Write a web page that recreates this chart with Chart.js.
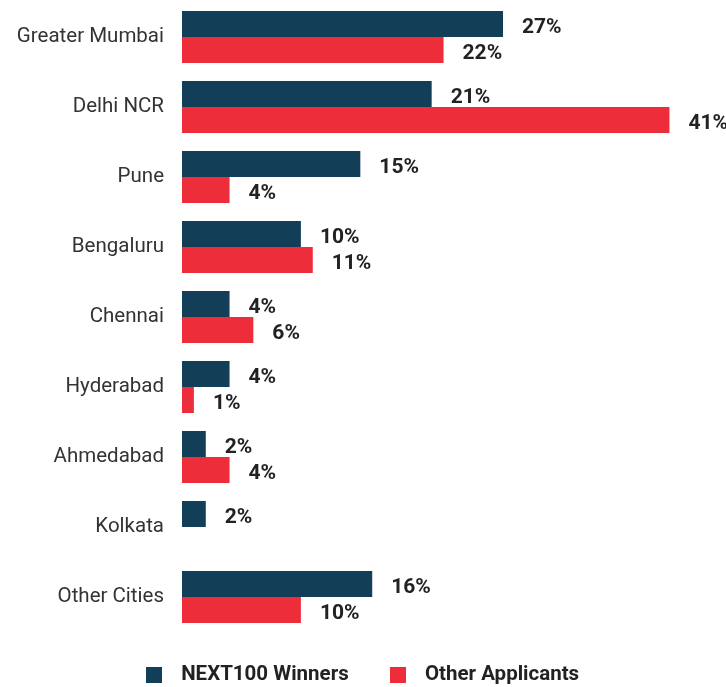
<!DOCTYPE html>
<html>
<head>
<meta charset="utf-8">
<script src="https://cdn.jsdelivr.net/npm/chart.js@4"></script>
<style>
  html, body { margin: 0; padding: 0; background: #fff; }
  #wrap { width: 726px; height: 687px; }
</style>
</head>
<body>
<div id="wrap"><canvas id="chart"></canvas></div>
<script>
//Cities on the y axis
const cities = ["Greater Mumbai", "Delhi NCR", "Pune", "Bengaluru", "Chennai", "Hyderabad", "Ahmedabad", "Kolkata", "Other Cities"];
//Share of each group per city (%)
const winners = [27, 21, 15, 10, 4, 4, 2, 2, 16];
const applicants = [22, 41, 4, 11, 6, 1, 4, null, 10];
const seriesNames = ["NEXT100 Winners", "Other Applicants"];
const seriesColors = ["#123e58", "#ee2d3a"];

//little square canvases used as legend markers
const legendSquares = seriesColors.map((c) => {
  const cv = document.createElement("canvas");
  cv.width = 16;
  cv.height = 16;
  const g = cv.getContext("2d");
  g.fillStyle = c;
  g.fillRect(0, 0, 16, 16);
  return cv;
});

//Plugin that writes the value next to each bar
const valueLabels = {
  id: "valueLabels",
  afterDatasetsDraw(chart) {
    const ctx = chart.ctx;
    ctx.save();
    ctx.font = "bold 21px Roboto";
    ctx.fillStyle = "#222";
    ctx.textBaseline = "middle";
    ctx.textAlign = "left";
    chart.data.datasets.forEach((ds, i) => {
      chart.getDatasetMeta(i).data.forEach((bar, j) => {
        const v = ds.data[j];
        if (v === null) return;
        ctx.fillText(v + "%", bar.x + 19, bar.y + 4);
      });
    });
    ctx.restore();
  }
};

new Chart(document.getElementById("chart"), {
  type: "bar",
  data: {
    labels: cities,
    datasets: [
      { label: seriesNames[0], data: winners, backgroundColor: seriesColors[0] },
      { label: seriesNames[1], data: applicants, backgroundColor: seriesColors[1] }
    ]
  },
  options: {
    indexAxis: "y",
    responsive: true,
    maintainAspectRatio: false,
    animation: false,
    layout: { padding: { top: 2, right: 9, left: 0, bottom: -8.5 } },
    datasets: { bar: { categoryPercentage: 0.743, barPercentage: 1 } },
    scales: {
      x: { display: false, min: 0, max: 45 },
      y: {
        grid: { display: false, drawTicks: false },
        border: { display: false },
        ticks: { padding: 18, color: "#333", font: { family: "Roboto", size: 20.5 } },
        afterFit(s) {
          s.width = 182;
          s.paddingTop = 0;
          s.paddingBottom = 0;
        }
      }
    },
    plugins: {
      tooltip: { enabled: false },
      legend: {
        position: "bottom",
        labels: {
          usePointStyle: true,
          pointStyleWidth: 33,
          boxHeight: 16,
          padding: 33,
          color: "#222",
          font: { family: "Roboto", size: 20.5, weight: "bold" },
          generateLabels(chart) {
            const items = Chart.defaults.plugins.legend.labels.generateLabels(chart);
            items.forEach((it, i) => { it.pointStyle = legendSquares[i]; });
            return items;
          }
        }
      }
    }
  },
  plugins: [valueLabels]
});
</script>
</body>
</html>
